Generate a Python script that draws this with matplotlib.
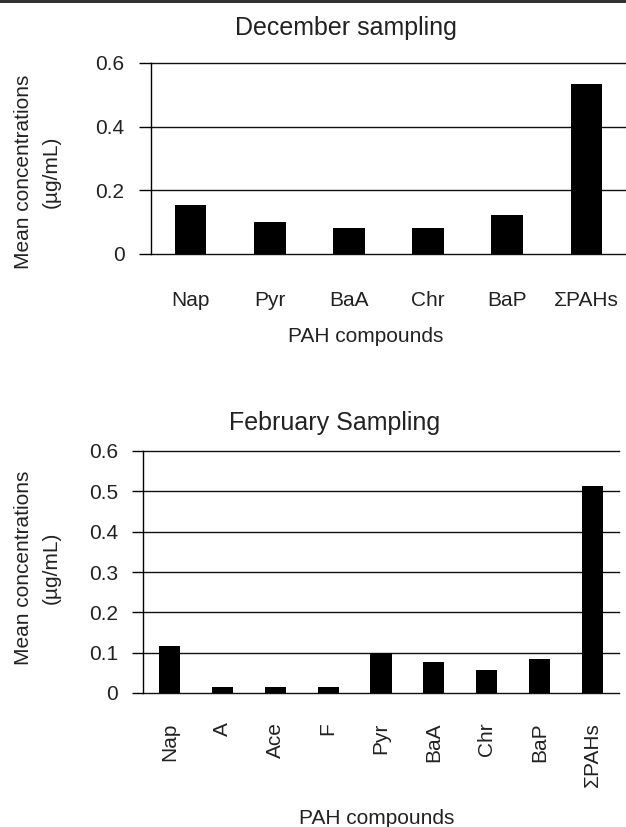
import matplotlib
matplotlib.use("Agg")
import matplotlib.pyplot as plt
from matplotlib.patches import Rectangle

plt.rcParams['font.family'] = ['Liberation Sans', 'DejaVu Sans']

# December sampling
dec_compounds = ['Nap', 'Pyr', 'BaA', 'Chr', 'BaP', 'ΣPAHs']
dec_values = [0.154, 0.100, 0.082, 0.082, 0.123, 0.533]
dec_ticks = [0, 0.2, 0.4, 0.6]
dec_ticklabels = ['0', '0.2', '0.4', '0.6']

# February sampling
feb_compounds = ['Nap', 'A', 'Ace', 'F', 'Pyr', 'BaA', 'Chr', 'BaP', 'ΣPAHs']
feb_values = [0.116, 0.015, 0.015, 0.015, 0.099, 0.077, 0.057, 0.084, 0.512]
feb_ticks = [0, 0.1, 0.2, 0.3, 0.4, 0.5, 0.6]
feb_ticklabels = ['0', '0.1', '0.2', '0.3', '0.4', '0.5', '0.6']

W, H = 626, 827
fig = plt.figure(figsize=(W / 100, H / 100), dpi=100)

# dark strip across the top
fig.patches.append(Rectangle((0, 1 - 3 / H), 1, 3 / H, transform=fig.transFigure,
                             facecolor='#333333', edgecolor='none'))


def px(x0, y0, x1, y1):
    # pixel box -> figure fraction rect
    return [x0 / W, 1 - y1 / H, (x1 - x0) / W, (y1 - y0) / H]


def style(ax, names, values, ticks, ticklabels, rot, pad, ticklen):
    x = range(len(names))
    ax.bar(x, values, width=0.4, color='black', zorder=3)
    ax.set_xlim(-0.5, len(names) - 0.5)
    ax.set_ylim(0, 0.6)
    ax.set_yticks(ticks)
    ax.set_yticklabels(ticklabels, fontsize=15, color='#222222')
    ax.set_xticks(list(x))
    ax.set_xticklabels(names, fontsize=15, rotation=rot, color='#222222')
    ax.tick_params(axis='x', length=0, pad=pad)
    ax.tick_params(axis='y', length=ticklen, width=1.0, color='black', pad=10)
    for s in ['top', 'right', 'bottom']:
        ax.spines[s].set_visible(False)
    ax.spines['left'].set_color('black')
    ax.spines['left'].set_linewidth(1.0)
    ax.yaxis.grid(True, color='#111111', linewidth=1.0, zorder=0)
    ax.set_axisbelow(True)
    # keep the 0 and 0.6 lines at full width
    for line in ax.get_ygridlines():
        line.set_clip_on(False)


ax1 = fig.add_axes(px(151, 63, 626, 254))
style(ax1, dec_compounds, dec_values, dec_ticks, dec_ticklabels, 0, 27, 9)

ax2 = fig.add_axes(px(143, 451, 619, 693))
style(ax2, feb_compounds, feb_values, feb_ticks, feb_ticklabels, 90, 21, 8)

txt = dict(color='#222222')
fig.text(346 / W, 1 - 28 / H, 'December sampling', fontsize=18, ha='center', va='center', **txt)
fig.text(366 / W, 1 - 337 / H, 'PAH compounds', fontsize=15, ha='center', va='center', **txt)
fig.text(24 / W, 1 - 172 / H, 'Mean concentrations', fontsize=15, rotation=90, ha='center', va='center', **txt)
fig.text(51 / W, 1 - 172 / H, '(µg/mL)', fontsize=15, rotation=90, ha='center', va='center', **txt)

fig.text(335 / W, 1 - 423 / H, 'February Sampling', fontsize=18, ha='center', va='center', **txt)
fig.text(377 / W, 1 - 818 / H, 'PAH compounds', fontsize=15, ha='center', va='center', **txt)
fig.text(24 / W, 1 - 568 / H, 'Mean concentrations', fontsize=15, rotation=90, ha='center', va='center', **txt)
fig.text(51 / W, 1 - 568 / H, '(µg/mL)', fontsize=15, rotation=90, ha='center', va='center', **txt)

fig.savefig('out.png', dpi=100)
